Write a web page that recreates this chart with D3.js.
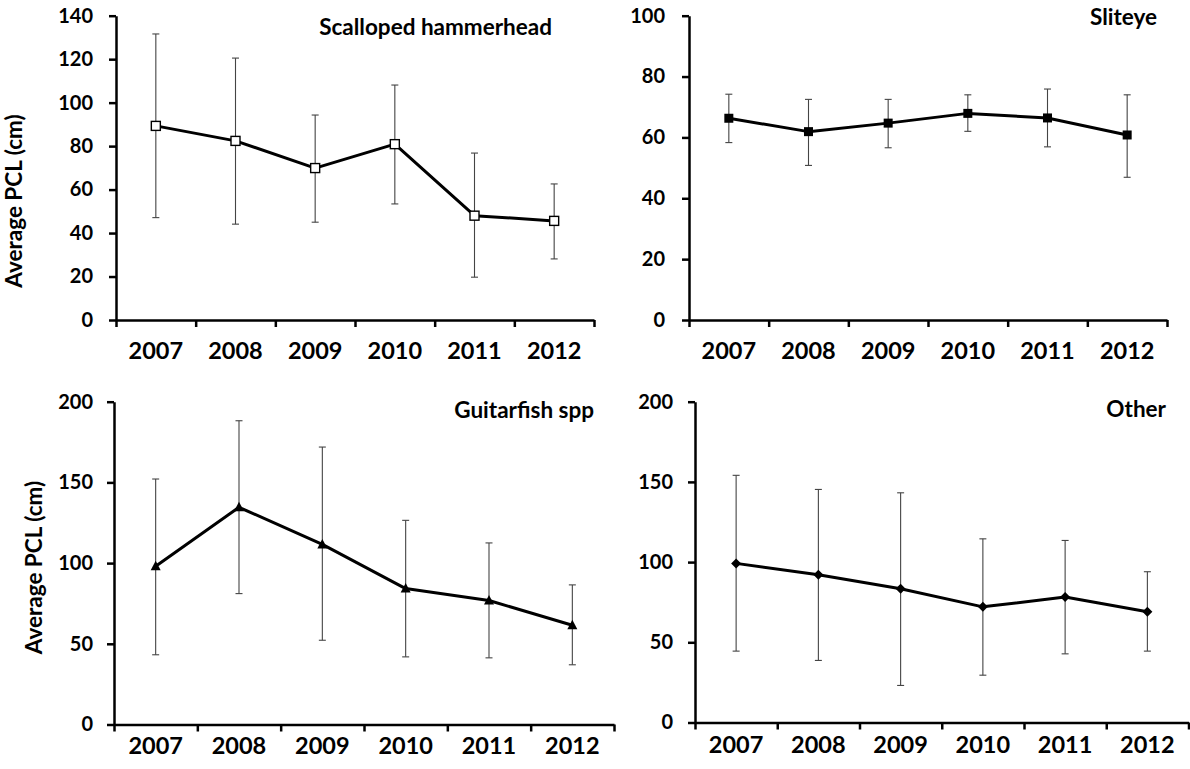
<!DOCTYPE html>
<html>
<head>
<meta charset="utf-8">
<script src="https://cdn.jsdelivr.net/npm/d3@7"></script>
<style>
  html, body { margin: 0; padding: 0; background: #fff; }
  svg { display: block; }
  text { font-family: Lato, "Open Sans", sans-serif; font-weight: 700; fill: #000; }
</style>
</head>
<body>
<svg id="chart" width="1190" height="769"></svg>
<script>
// ---- data ----
const years = ["2007", "2008", "2009", "2010", "2011", "2012"];

const hammerMean = [89.3, 82.4, 69.9, 80.9, 48.0, 45.6];
const hammerHigh = [131.6, 120.5, 94.3, 108.1, 76.8, 62.6];
const hammerLow  = [47.1, 44.1, 45.0, 53.4, 19.7, 28.1];

const sliteyeMean = [66.3, 61.9, 64.7, 67.9, 66.4, 60.8];
const sliteyeHigh = [74.2, 72.5, 72.5, 74.0, 75.9, 74.0];
const sliteyeLow  = [58.3, 50.8, 56.6, 62.0, 56.9, 46.9];

const guitarMean = [98.0, 134.6, 111.6, 84.2, 76.8, 61.5];
const guitarHigh = [152.1, 188.2, 171.9, 126.5, 112.5, 86.5];
const guitarLow  = [43.2, 81.1, 52.2, 41.9, 41.3, 37.0];

const otherMean = [99.2, 92.1, 83.4, 72.1, 78.2, 69.0];
const otherHigh = [154.1, 145.3, 143.2, 114.5, 113.5, 94.0];
const otherLow  = [44.5, 38.7, 23.1, 29.5, 42.8, 44.5];

const ticksHammer = [0, 20, 40, 60, 80, 100, 120, 140];
const ticksSliteye = [0, 20, 40, 60, 80, 100];
const ticksBig = [0, 50, 100, 150, 200];

const titles = ["Scalloped hammerhead", "Sliteye", "Guitarfish spp", "Other"];
const yTitle = "Average PCL (cm)";

// ---- layout ----
const svg = d3.select("#chart");
const panels = [
  { title: titles[0], mean: hammerMean, hi: hammerHigh, lo: hammerLow, ticks: ticksHammer,
    x0: 116, x1: 594, yT: 15.7, yB: 320, marker: "openSquare",
    titleX: 552, titleY: 35, yLabel: true, yLabX: 22, yLabY: 201, xLabY: 359, tickLabOff: 23 },
  { title: titles[1], mean: sliteyeMean, hi: sliteyeHigh, lo: sliteyeLow, ticks: ticksSliteye,
    x0: 689, x1: 1167, yT: 15.7, yB: 320, marker: "square",
    titleX: 1157, titleY: 25, yLabel: false, xLabY: 359, tickLabOff: 24 },
  { title: titles[2], mean: guitarMean, hi: guitarHigh, lo: guitarLow, ticks: ticksBig,
    x0: 114, x1: 614, yT: 401.7, yB: 724.5, marker: "triangle",
    titleX: 594, titleY: 418, yLabel: true, yLabX: 42, yLabY: 567.5, xLabY: 753.5, tickLabOff: 21 },
  { title: titles[3], mean: otherMean, hi: otherHigh, lo: otherLow, ticks: ticksBig,
    x0: 695, x1: 1188.5, yT: 401.7, yB: 722.5, marker: "diamond",
    titleX: 1166, titleY: 417, yLabel: false, xLabY: 752.5, tickLabOff: 22 }
];

panels.forEach(p => {
  const g = svg.append("g");
  const yMax = p.ticks[p.ticks.length - 1];
  const y = d3.scaleLinear().domain([0, yMax]).range([p.yB, p.yT]);
  const xb = d3.scaleBand().domain(years).range([p.x0, p.x1]);
  const xl = d3.scaleLinear().domain([0, years.length]).range([p.x0, p.x1]);
  const cx = d => xb(d) + xb.bandwidth() / 2;

  // y axis
  const ya = g.append("g").attr("transform", `translate(${p.x0},0)`)
    .call(d3.axisLeft(y).tickValues(p.ticks).tickSize(7).tickSizeOuter(0).tickPadding(p.tickLabOff - 7));
  ya.selectAll("text").style("font-size", "20px");
  ya.select(".domain").attr("stroke-width", 2.5);
  ya.selectAll(".tick line").attr("stroke-width", 2.5);

  // x axis (boundary ticks)
  const xa = g.append("g").attr("transform", `translate(0,${p.yB})`)
    .call(d3.axisBottom(xl).tickValues(d3.range(0, years.length + 1)).tickSize(7).tickSizeOuter(0).tickFormat(""));
  xa.select(".domain").attr("stroke-width", 2.5);
  xa.selectAll(".tick line").attr("stroke-width", 2.5);

  // x labels
  const xt = g.append("g").attr("transform", `translate(0,${p.xLabY})`)
    .call(d3.axisBottom(xb).tickSize(0).tickPadding(0));
  xt.select(".domain").remove();
  xt.selectAll("text").attr("dy", 0).attr("y", 0).style("font-size", "23.5px");

  // error bars
  const eb = g.append("g").attr("stroke", "#444").attr("stroke-width", 1.1).attr("fill", "none");
  years.forEach((yr, i) => {
    const x = cx(yr);
    eb.append("line").attr("x1", x).attr("x2", x).attr("y1", y(p.hi[i])).attr("y2", y(p.lo[i]));
    eb.append("line").attr("x1", x - 3.5).attr("x2", x + 3.5).attr("y1", y(p.hi[i])).attr("y2", y(p.hi[i]));
    eb.append("line").attr("x1", x - 3.5).attr("x2", x + 3.5).attr("y1", y(p.lo[i])).attr("y2", y(p.lo[i]));
  });

  // line
  const line = d3.line().x((d, i) => cx(years[i])).y(d => y(d));
  g.append("path").datum(p.mean).attr("d", line)
    .attr("fill", "none").attr("stroke", "#000").attr("stroke-width", 3).attr("stroke-linejoin", "round");

  // markers
  const mk = g.append("g");
  p.mean.forEach((v, i) => {
    const x = cx(years[i]), yy = y(v);
    if (p.marker === "openSquare") {
      mk.append("rect").attr("x", x - 4.5).attr("y", yy - 4.5).attr("width", 9).attr("height", 9)
        .attr("fill", "#fff").attr("stroke", "#000").attr("stroke-width", 1.4);
    } else if (p.marker === "square") {
      mk.append("rect").attr("x", x - 4.5).attr("y", yy - 4.5).attr("width", 9).attr("height", 9)
        .attr("fill", "#000");
    } else if (p.marker === "triangle") {
      mk.append("path").attr("d", `M${x},${yy - 5.5}L${x + 5},${yy + 4}L${x - 5},${yy + 4}Z`).attr("fill", "#000");
    } else {
      mk.append("path").attr("d", `M${x},${yy - 5}L${x + 5},${yy}L${x},${yy + 5}L${x - 5},${yy}Z`).attr("fill", "#000");
    }
  });

  // title
  g.append("text").attr("x", p.titleX).attr("y", p.titleY).attr("text-anchor", "end")
    .style("font-size", "22.5px").text(p.title);

  // y label
  if (p.yLabel) {
    g.append("text").attr("transform", `translate(${p.yLabX},${p.yLabY}) rotate(-90)`)
      .attr("text-anchor", "middle").style("font-size", "22.5px").text(yTitle);
  }
});
</script>
</body>
</html>
